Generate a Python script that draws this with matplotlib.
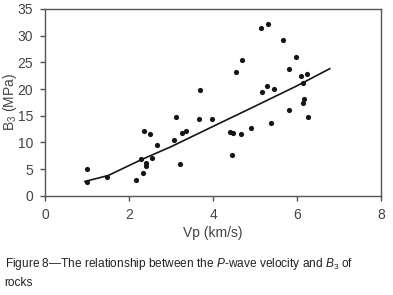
import numpy as np
import matplotlib
matplotlib.use('Agg')
import matplotlib.pyplot as plt

plt.rcParams['font.family'] = ['Liberation Sans', 'DejaVu Sans']
plt.rcParams['mathtext.fontset'] = 'custom'
plt.rcParams['mathtext.rm'] = 'Liberation Sans'
plt.rcParams['mathtext.it'] = 'Liberation Sans:italic'

# scatter points
vp = [1.0, 1.0, 1.47, 2.17, 2.34, 2.40, 2.40, 2.29, 2.55, 2.66, 2.36, 2.50,
      3.06, 3.22, 3.25, 3.35, 3.13, 3.69, 3.67, 3.98, 4.55, 4.70, 4.41, 4.47,
      4.67, 4.90, 4.46, 5.14, 5.30, 5.66, 5.17, 5.28, 5.46, 5.37, 5.81, 5.97,
      5.82, 6.10, 6.23, 6.15, 6.17, 6.15, 6.25]
b3 = [5.0, 2.6, 3.5, 2.9, 4.3, 5.5, 6.1, 6.9, 7.0, 9.6, 12.1, 11.6,
      10.4, 5.9, 11.8, 12.1, 14.7, 19.9, 14.4, 14.4, 23.1, 25.5, 12.0, 11.8,
      11.6, 12.7, 7.6, 31.4, 32.2, 29.1, 19.4, 20.6, 20.0, 13.7, 23.8, 25.9,
      16.1, 22.4, 22.9, 21.2, 18.1, 17.3, 14.8]

# trend line, read at a few places
fit_x = [0.95, 1.5, 2.3, 3.0, 4.0, 4.9, 6.0, 6.78]
fit_y = [2.7, 3.8, 6.8, 9.2, 13.0, 16.4, 20.6, 23.8]

fig = plt.figure(figsize=(3.93, 2.95), dpi=100)
ax = fig.add_axes([0.1145, 0.336, 0.855, 0.634])

grey = '#555555'
ax.scatter(vp, b3, s=14, color='#151515', zorder=3, linewidths=0)
ax.plot(fit_x, fit_y, color='#151515', lw=1.2)

ax.set_xlim(0, 8)
ax.set_ylim(0, 35)
ax.set_xticks([0, 2, 4, 6, 8])
ax.set_yticks(range(0, 36, 5))
for s in ax.spines.values():
    s.set_color(grey)
    s.set_linewidth(1.0)
ax.tick_params(direction='out', length=3.5, width=1.0, color=grey,
               labelcolor='#444444', labelsize=10, pad=5)
ax.set_xlabel('Vp (km/s)', color='#444444', fontsize=10, labelpad=3)
ax.set_ylabel('B$_3$ (MPa)', color='#444444', fontsize=10)
ax.yaxis.set_label_coords(-0.077, 0.5)

fig.text(0.012, 1 - 256 / 295,
         'Figure 8\u2014The relationship between the $P$-wave velocity and $B_3$ of\nrocks',
         fontsize=8.6, color='#222222', ha='left', va='top', linespacing=1.5)

fig.savefig('out.png', dpi=100)
